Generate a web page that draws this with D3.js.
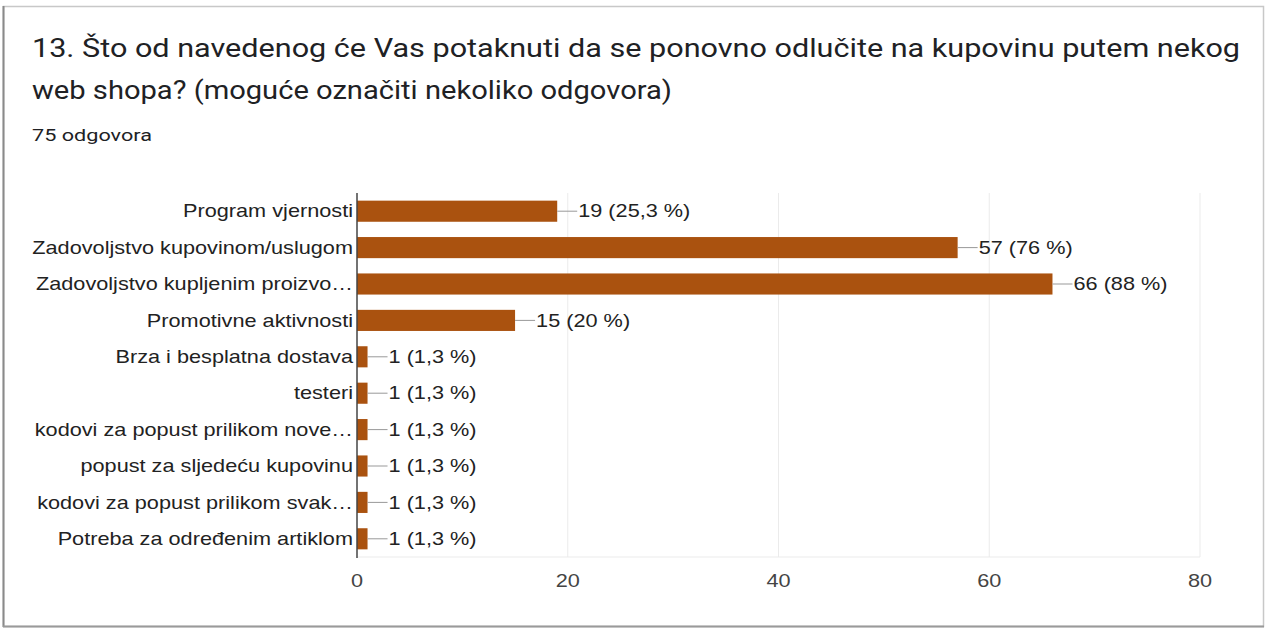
<!DOCTYPE html>
<html lang="hr">
<head>
<meta charset="UTF-8">
<script src="https://d3js.org/d3.v7.min.js"></script>
<style>
  body { margin: 0; background: #fff; }
  svg { display: block; font-family: Roboto, Arial, sans-serif; }
</style>
</head>
<body>
<div id="chart"></div>
<script>
// Data
const categories = [
  "Program vjernosti",
  "Zadovoljstvo kupovinom/uslugom",
  "Zadovoljstvo kupljenim proizvo…",
  "Promotivne aktivnosti",
  "Brza i besplatna dostava",
  "testeri",
  "kodovi za popust prilikom nove…",
  "popust za sljedeću kupovinu",
  "kodovi za popust prilikom svak…",
  "Potreba za određenim artiklom"
];
const counts = [19, 57, 66, 15, 1, 1, 1, 1, 1, 1];
const percentLabels = ["25,3", "76", "88", "20", "1,3", "1,3", "1,3", "1,3", "1,3", "1,3"];
const xTicks = [0, 20, 40, 60, 80];

const data = categories.map((c, i) => ({ cat: c, n: counts[i], pct: percentLabels[i] }));

const width = 1270, height = 630;
const sx = 1.24; // the screenshot text is stretched horizontally
const labelFont = "Arial, 'Liberation Sans', sans-serif";
const labelSize = 17.5;

const svg = d3.select("#chart").append("svg")
  .attr("width", width)
  .attr("height", height);

// card with a slightly darker left / bottom edge
svg.append("rect")
  .attr("x", 3.5).attr("y", 6.5)
  .attr("width", 1260).attr("height", 620)
  .attr("fill", "#fff")
  .attr("stroke", "#c8c8c8")
  .attr("stroke-width", 1.5);
svg.append("line")
  .attr("x1", 3.5).attr("x2", 3.5).attr("y1", 6).attr("y2", 627)
  .attr("stroke", "#8a8a8a").attr("stroke-width", 2);
svg.append("line")
  .attr("x1", 3).attr("x2", 1264).attr("y1", 626.5).attr("y2", 626.5)
  .attr("stroke", "#9a9a9a").attr("stroke-width", 2);

// title
svg.append("text")
  .attr("x", 32).attr("y", 57)
  .attr("fill", "#202124")
  .attr("font-size", 25)
  .attr("textLength", 1208)
  .attr("lengthAdjust", "spacingAndGlyphs")
  .text("13. Što od navedenog će Vas potaknuti da se ponovno odlučite na kupovinu putem nekog");
svg.append("text")
  .attr("x", 32).attr("y", 99)
  .attr("fill", "#202124")
  .attr("font-size", 25)
  .attr("textLength", 640)
  .attr("lengthAdjust", "spacingAndGlyphs")
  .text("web shopa? (moguće označiti nekoliko odgovora)");
svg.append("text")
  .attr("x", 32).attr("y", 141)
  .attr("fill", "#202124")
  .attr("font-size", 17)
  .attr("textLength", 120)
  .attr("lengthAdjust", "spacingAndGlyphs")
  .text("75 odgovora");

// scales
const x0 = 357, x1 = 1200, yTop = 193, yBot = 557;
const x = d3.scaleLinear().domain([0, 80]).range([x0, x1]);
const y = d3.scaleBand().domain(categories).range([yTop, yBot]).paddingInner(0.42).paddingOuter(0.21);
const yMid = d => y(d.cat) + y.bandwidth() / 2;

const g = svg.append("g");

// gridlines
g.selectAll("line.grid")
  .data(xTicks.filter(d => d > 0))
  .join("line")
  .attr("class", "grid")
  .attr("x1", d => x(d)).attr("x2", d => x(d))
  .attr("y1", yTop).attr("y2", yBot)
  .attr("stroke", "#ebebeb");

g.append("line")
  .attr("x1", x0).attr("x2", x1)
  .attr("y1", yBot).attr("y2", yBot)
  .attr("stroke", "#ebebeb");

// x axis labels
g.selectAll("text.tick")
  .data(xTicks)
  .join("text")
  .attr("class", "tick")
  .attr("transform", d => `translate(${x(d)},587) scale(${sx},1)`)
  .attr("text-anchor", "middle")
  .attr("fill", "#444")
  .attr("font-family", labelFont)
  .attr("font-size", labelSize)
  .text(d => d);

// bars
g.selectAll("rect.bar")
  .data(data)
  .join("rect")
  .attr("class", "bar")
  .attr("x", x(0))
  .attr("y", d => y(d.cat))
  .attr("width", d => x(d.n) - x(0))
  .attr("height", y.bandwidth())
  .attr("fill", "#aa520f");

// zero axis line
g.append("line")
  .attr("x1", x0).attr("x2", x0)
  .attr("y1", yTop).attr("y2", yBot + 1)
  .attr("stroke", "#444")
  .attr("stroke-width", 1.5);

// category labels
g.selectAll("text.cat")
  .data(data)
  .join("text")
  .attr("class", "cat")
  .attr("transform", d => `translate(${x0 - 4},${yMid(d)}) scale(${sx},1)`)
  .attr("dy", "0.35em")
  .attr("text-anchor", "end")
  .attr("fill", "#222")
  .attr("font-family", labelFont)
  .attr("font-size", labelSize)
  .text(d => d.cat);

// value leader lines
g.selectAll("line.lead")
  .data(data)
  .join("line")
  .attr("class", "lead")
  .attr("x1", d => x(d.n))
  .attr("x2", d => x(d.n) + 20)
  .attr("y1", yMid)
  .attr("y2", yMid)
  .attr("stroke", "#999");

// value labels
g.selectAll("text.val")
  .data(data)
  .join("text")
  .attr("class", "val")
  .attr("transform", d => `translate(${x(d.n) + 21},${yMid(d)}) scale(${sx},1)`)
  .attr("dy", "0.35em")
  .attr("fill", "#222")
  .attr("font-family", labelFont)
  .attr("font-size", labelSize)
  .text(d => `${d.n} (${d.pct} %)`);
</script>
</body>
</html>
